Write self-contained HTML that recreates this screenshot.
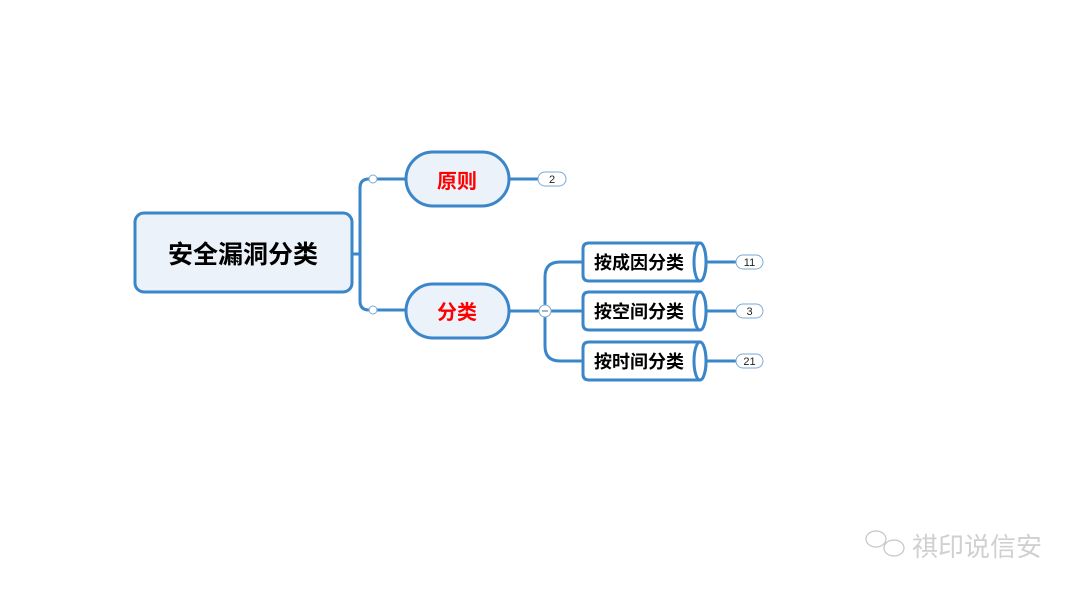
<!DOCTYPE html>
<html><head><meta charset="utf-8"><style>
html,body{margin:0;padding:0;background:#fff;}
svg{display:block;}
text{font-family:"Liberation Sans","Noto Sans CJK SC",sans-serif;}
</style></head><body>
<svg width="1080" height="594" viewBox="0 0 1080 594" xmlns="http://www.w3.org/2000/svg">
<g fill="none" stroke="#3a86c8" stroke-width="3">
  <path d="M352 254 H360 V188 Q360 179 369 179 H406"/>
  <path d="M360 254 V301 Q360 310 369 310 H406"/>
  <path d="M509 179 H538"/>
  <path d="M509 311 H583"/>
  <path d="M545 311 V277 Q545 262 560 262 H583"/>
  <path d="M545 311 V346 Q545 361 560 361 H583"/>
  <path d="M706 262 H736"/>
  <path d="M706 311 H736"/>
  <path d="M706 361 H736"/>
</g>
<circle cx="373" cy="179" r="4" fill="#fff" stroke="#7aa9d6" stroke-width="1"/>
<circle cx="373" cy="310" r="4" fill="#fff" stroke="#7aa9d6" stroke-width="1"/>
<rect x="135" y="213" width="217" height="79" rx="9" fill="#ebf2f9" stroke="#3a86c8" stroke-width="3"/>
<text x="243" y="263" font-size="25" font-weight="bold" text-anchor="middle" fill="#000">安全漏洞分类</text>
<rect x="406" y="152" width="103" height="54" rx="27" fill="#ebf2f9" stroke="#3a86c8" stroke-width="3"/>
<text x="457" y="188" font-size="20" font-weight="bold" text-anchor="middle" fill="#f00">原则</text>
<rect x="406" y="284" width="103" height="54" rx="27" fill="#ebf2f9" stroke="#3a86c8" stroke-width="3"/>
<text x="457" y="319" font-size="20" font-weight="bold" text-anchor="middle" fill="#f00">分类</text>
<rect x="538" y="172" width="28" height="14" rx="7" fill="#fff" stroke="#7aa9d6" stroke-width="1"/>
<text x="552" y="183" font-size="11" text-anchor="middle" fill="#222">2</text>
<circle cx="545" cy="311" r="6" fill="#fff" stroke="#7aa9d6" stroke-width="1"/>
<path d="M542 311 H548" stroke="#666" stroke-width="1"/>
<g stroke="#3a86c8" stroke-width="3">
  <path d="M589 243 H700 A6 19 0 0 1 700 281 H589 Q583 281 583 275 V249 Q583 243 589 243 Z" fill="#fff"/>
  <ellipse cx="700" cy="262" rx="6" ry="19" fill="#fff"/>
  <path d="M589 292 H700 A6 19 0 0 1 700 330 H589 Q583 330 583 324 V298 Q583 292 589 292 Z" fill="#fff"/>
  <ellipse cx="700" cy="311" rx="6" ry="19" fill="#fff"/>
  <path d="M589 342 H700 A6 19 0 0 1 700 380 H589 Q583 380 583 374 V348 Q583 342 589 342 Z" fill="#fff"/>
  <ellipse cx="700" cy="361" rx="6" ry="19" fill="#fff"/>
</g>
<g font-size="18" font-weight="bold" text-anchor="middle" fill="#000">
  <text x="639" y="269">按成因分类</text>
  <text x="639" y="318">按空间分类</text>
  <text x="639" y="368">按时间分类</text>
</g>
<g fill="#fff" stroke="#7aa9d6" stroke-width="1">
  <rect x="736" y="255" width="27" height="14" rx="7"/>
  <rect x="736" y="304" width="27" height="14" rx="7"/>
  <rect x="736" y="354" width="27" height="14" rx="7"/>
</g>
<g font-size="11" text-anchor="middle" fill="#222">
  <text x="749.5" y="266">11</text>
  <text x="749.5" y="315">3</text>
  <text x="749.5" y="365">21</text>
</g>
<g fill="none" stroke="#c4c4c4" stroke-width="1.2">
  <ellipse cx="876" cy="539" rx="10" ry="8"/>
  <ellipse cx="894" cy="548" rx="10" ry="8" fill="#fff"/>
</g>
<text x="912" y="556" font-size="26" fill="#d0d0d0">祺印说信安</text>
</svg>
</body></html>
